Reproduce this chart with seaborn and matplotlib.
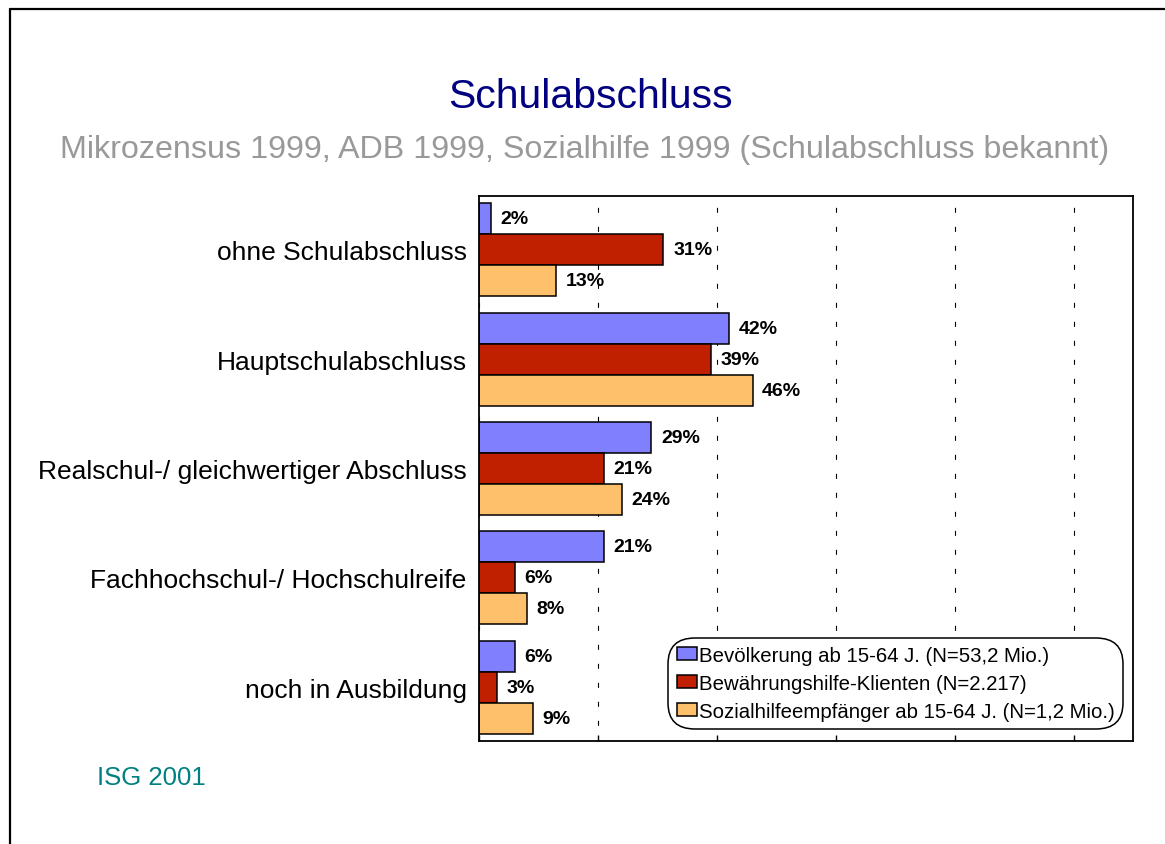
import pandas as pd
import matplotlib.pyplot as plt
import seaborn as sns
from matplotlib.lines import Line2D

# daten aus der grafik
kategorien = [
    "ohne Schulabschluss",
    "Hauptschulabschluss",
    "Realschul-/ gleichwertiger Abschluss",
    "Fachhochschul-/ Hochschulreife",
    "noch in Ausbildung",
]
gruppen = [
    "Bevölkerung ab 15-64 J. (N=53,2 Mio.)",
    "Bewährungshilfe-Klienten (N=2.217)",
    "Sozialhilfeempfänger ab 15-64 J. (N=1,2 Mio.)",
]
bevoelkerung = [2, 42, 29, 21, 6]
bewaehrungshilfe = [31, 39, 21, 6, 3]
sozialhilfe = [13, 46, 24, 8, 9]
farben = ["#8080FF", "#C02000", "#FFC06C"]

df = pd.DataFrame(
    {
        "Kategorie": kategorien * 3,
        "Gruppe": [gruppen[0]] * 5 + [gruppen[1]] * 5 + [gruppen[2]] * 5,
        "Wert": bevoelkerung + bewaehrungshilfe + sozialhilfe,
    }
)

sns.set_theme(style="white")
plt.rcParams["font.family"] = ["Liberation Sans", "DejaVu Sans"]
plt.rcParams["text.color"] = "black"
plt.rcParams["axes.labelcolor"] = "black"
plt.rcParams["xtick.color"] = "black"
plt.rcParams["ytick.color"] = "black"

fig = plt.figure(figsize=(11.65, 8.45), dpi=100)
fig.patch.set_facecolor("white")
ax = fig.add_axes([0.4112, 0.1219, 0.5613, 0.645])

sns.barplot(
    data=df,
    x="Wert",
    y="Kategorie",
    hue="Gruppe",
    order=kategorien,
    hue_order=gruppen,
    palette=farben,
    orient="h",
    width=0.85,
    gap=0,
    edgecolor="black",
    linewidth=1.1,
    saturation=1,
    ax=ax,
)

for cont in ax.containers:
    ax.bar_label(
        cont,
        labels=[f"{int(v)}%" for v in cont.datavalues],
        padding=7,
        fontsize=14,
        fontweight="bold",
        color="black",
    )

ax.set_xlim(0, 110)
ax.set_ylim(4.49, -0.49)
ax.set_xticks([0, 20, 40, 60, 80, 100])
ax.xaxis.grid(True, color="black", linewidth=0.8, linestyle=(3, (4.5, 12.6)))
ax.yaxis.grid(False)
ax.tick_params(axis="x", direction="in", length=4, width=1, labelbottom=False, bottom=True)
ax.tick_params(axis="y", length=0, pad=9, labelsize=19, labelcolor="black")
ax.set_xlabel("")
ax.set_ylabel("")
for s in ax.spines.values():
    s.set_visible(True)
    s.set_color("black")
    s.set_linewidth(1.3)

leg = ax.legend(
    loc="lower right",
    bbox_to_anchor=(0.98, 0.027),
    fontsize=14.7,
    frameon=True,
    fancybox=True,
    edgecolor="black",
    framealpha=1,
    handlelength=1.0,
    handleheight=0.6,
    handletextpad=0.1,
    labelspacing=0.45,
    borderpad=0.25,
    borderaxespad=0,
)
for t in leg.get_texts():
    t.set_color("black")
leg.get_frame().set_linewidth(1.1)
leg.get_frame().set_boxstyle("round,pad=0.15,rounding_size=1.3")

fig.text(0.507, 0.885, "Schulabschluss", ha="center", va="center", fontsize=29.5, color="#000080")
fig.text(
    0.502,
    0.822,
    "Mikrozensus 1999, ADB 1999, Sozialhilfe 1999 (Schulabschluss bekannt)",
    ha="center",
    va="center",
    fontsize=23.2,
    color="#999999",
)
fig.text(0.083, 0.079, "ISG 2001", ha="left", va="center", fontsize=18.5, color="#008080")

# rahmen der folie
fig.add_artist(Line2D([10 / 1165, 1], [1 - 10 / 845, 1 - 10 / 845], color="black", linewidth=1.6))
fig.add_artist(Line2D([10 / 1165, 10 / 1165], [0, 1 - 10 / 845], color="black", linewidth=1.6))

fig.savefig("out.png", dpi=100)
plt.close(fig)
